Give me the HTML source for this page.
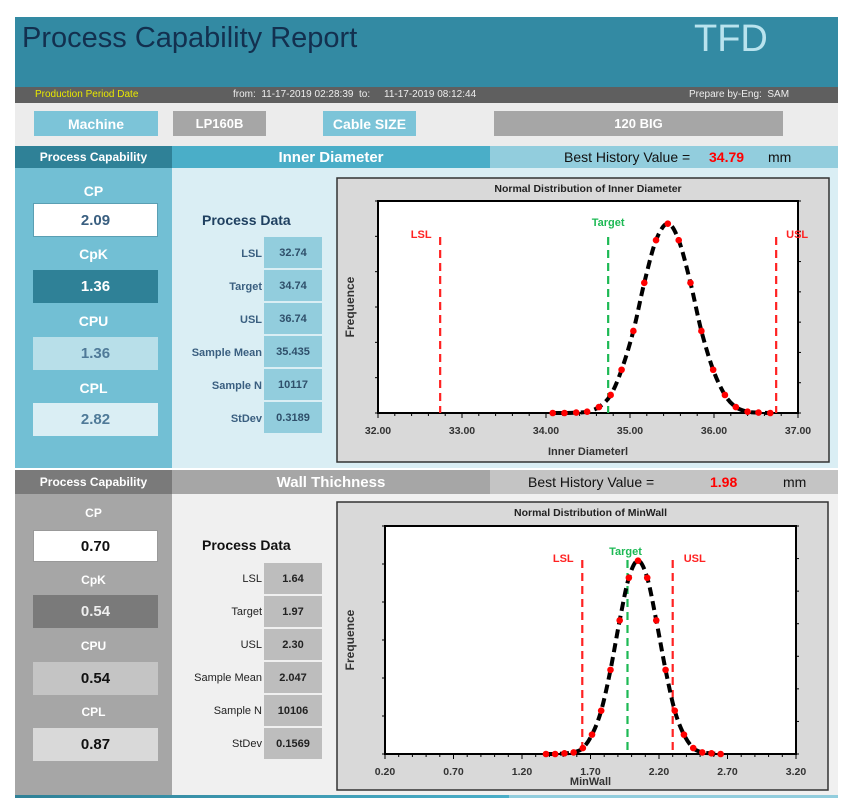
<!DOCTYPE html>
<html><head><meta charset="utf-8">
<style>
body{margin:0;width:850px;height:798px;background:#fff;position:relative;overflow:hidden;font-family:"Liberation Sans",sans-serif;}
div{position:absolute;box-sizing:border-box;}
.c{display:flex;align-items:center;justify-content:center;}
.b{font-weight:bold;}
.lbl{left:172px;width:90px;text-align:right;font-size:11px;font-weight:bold;color:#3a5f80;}
.val{left:264px;width:58px;font-size:11px;font-weight:bold;color:#2f4f6a;}
.lbl2{left:172px;width:90px;text-align:right;font-size:11px;color:#222;}
.val2{left:264px;width:58px;font-size:11px;font-weight:bold;color:#222;background:#bdbdbd;}
svg text{font-family:"Liberation Sans",sans-serif;}
</style></head><body>
<div style="left:15px;top:17px;width:823px;height:70px;background:#338aa3;"></div>
<div style="left:22px;top:22px;font-size:29px;color:#13304f;">Process Capability Report</div>
<div style="left:694px;top:18px;font-size:38px;color:#b9e3ee;">TFD</div>
<div style="left:15px;top:87px;width:823px;height:16px;background:#5f5f5f;font-size:10px;color:#eee;">
<span style="position:absolute;left:20px;top:2px;color:#e8e800;">Production Period Date</span>
<span style="position:absolute;left:218px;top:2px;">from:&nbsp; 11-17-2019 02:28:39 &nbsp;to: &nbsp;&nbsp;&nbsp; 11-17-2019 08:12:44</span>
<span style="position:absolute;left:674px;top:2px;">Prepare by-Eng:&nbsp; SAM</span></div>
<div style="left:15px;top:103px;width:823px;height:43px;background:#ececec;"></div>
<div class="c b" style="left:34px;top:111px;width:124px;height:25px;background:#7cc4d8;color:#fff;font-size:14px;">Machine</div>
<div class="c b" style="left:173px;top:111px;width:93px;height:25px;background:#a6a6a6;color:#fff;font-size:13px;">LP160B</div>
<div class="c b" style="left:323px;top:111px;width:93px;height:25px;background:#7cc4d8;color:#fff;font-size:14px;">Cable SIZE</div>
<div class="c b" style="left:494px;top:111px;width:289px;height:25px;background:#a6a6a6;color:#fff;font-size:13px;">120 BIG</div>

<!-- Section 1 -->
<div class="c b" style="left:15px;top:146px;width:157px;height:22px;background:#2f8197;color:#fff;font-size:12px;">Process Capability</div>
<div class="c b" style="left:172px;top:146px;width:318px;height:22px;background:#4aaec8;color:#fff;font-size:15px;">Inner Diameter</div>
<div style="left:490px;top:146px;width:348px;height:22px;background:#92cddd;font-size:14px;color:#111;"><span style="position:absolute;left:74px;top:3px;">Best History Value =</span><span style="position:absolute;left:219px;top:3px;color:#f00;font-weight:bold;">34.79</span><span style="position:absolute;left:278px;top:3px;">mm</span></div>
<div style="left:15px;top:168px;width:157px;height:300px;background:#72bfd4;"></div>
<div style="left:172px;top:168px;width:666px;height:300px;background:#daeef4;"></div>
<div class="c b" style="left:15px;top:182px;width:157px;height:18px;color:#fff;font-size:14px;">CP</div>
<div class="c b" style="left:33px;top:203px;width:125px;height:34px;background:#fff;border:1px solid #5a9fb3;color:#3a5f80;font-size:15px;">2.09</div>
<div class="c b" style="left:15px;top:245px;width:157px;height:18px;color:#fff;font-size:14px;">CpK</div>
<div class="c b" style="left:33px;top:270px;width:125px;height:33px;background:#2f8197;color:#fff;font-size:15px;">1.36</div>
<div class="c b" style="left:15px;top:312px;width:157px;height:18px;color:#fff;font-size:14px;">CPU</div>
<div class="c b" style="left:33px;top:337px;width:125px;height:33px;background:#b8dfe9;color:#4f7a98;font-size:15px;">1.36</div>
<div class="c b" style="left:15px;top:379px;width:157px;height:18px;color:#fff;font-size:14px;">CPL</div>
<div class="c b" style="left:33px;top:403px;width:125px;height:33px;background:#daeef4;color:#4f7a98;font-size:15px;">2.82</div>
<div class="b" style="left:202px;top:212px;font-size:14px;color:#1f4060;">Process Data</div>
<div class="lbl" style="top:248px">LSL</div><div class="val c" style="top:237px;height:31px;background:#92cddd">32.74</div>
<div class="lbl" style="top:281px">Target</div><div class="val c" style="top:270px;height:31px;background:#92cddd">34.74</div>
<div class="lbl" style="top:314px">USL</div><div class="val c" style="top:303px;height:31px;background:#92cddd">36.74</div>
<div class="lbl" style="top:347px">Sample Mean</div><div class="val c" style="top:336px;height:31px;background:#92cddd">35.435</div>
<div class="lbl" style="top:380px">Sample N</div><div class="val c" style="top:369px;height:31px;background:#92cddd">10117</div>
<div class="lbl" style="top:413px">StDev</div><div class="val c" style="top:402px;height:31px;background:#92cddd">0.3189</div>

<!-- Section 2 -->
<div class="c b" style="left:15px;top:470px;width:157px;height:24px;background:#7a7a7a;color:#fff;font-size:12px;">Process Capability</div>
<div class="c b" style="left:172px;top:470px;width:318px;height:24px;background:#a6a6a6;color:#fff;font-size:15px;">Wall Thichness</div>
<div style="left:490px;top:470px;width:348px;height:24px;background:#c4c4c4;font-size:14px;color:#111;"><span style="position:absolute;left:38px;top:4px;">Best History Value =</span><span style="position:absolute;left:220px;top:4px;color:#f00;font-weight:bold;">1.98</span><span style="position:absolute;left:293px;top:4px;">mm</span></div>
<div style="left:15px;top:494px;width:157px;height:301px;background:#a6a6a6;"></div>
<div style="left:172px;top:494px;width:666px;height:301px;background:#f0f0f0;"></div>
<div style="left:15px;top:795px;width:823px;height:3px;background:linear-gradient(90deg,#2f8197 0,#4aaec8 60%,#92cddd 60%);"></div>
<div class="c b" style="left:15px;top:505px;width:157px;height:16px;color:#fff;font-size:12px;">CP</div>
<div class="c b" style="left:33px;top:530px;width:125px;height:32px;background:#fff;border:1px solid #999;color:#111;font-size:15px;">0.70</div>
<div class="c b" style="left:15px;top:572px;width:157px;height:16px;color:#fff;font-size:12px;">CpK</div>
<div class="c b" style="left:33px;top:595px;width:125px;height:33px;background:#7a7a7a;color:#eee;font-size:15px;">0.54</div>
<div class="c b" style="left:15px;top:638px;width:157px;height:16px;color:#fff;font-size:12px;">CPU</div>
<div class="c b" style="left:33px;top:662px;width:125px;height:33px;background:#c4c4c4;color:#111;font-size:15px;">0.54</div>
<div class="c b" style="left:15px;top:704px;width:157px;height:16px;color:#fff;font-size:12px;">CPL</div>
<div class="c b" style="left:33px;top:728px;width:125px;height:33px;background:#d9d9d9;color:#111;font-size:15px;">0.87</div>
<div class="b" style="left:202px;top:537px;font-size:14px;color:#111;">Process Data</div>
<div class="lbl2" style="top:573px">LSL</div><div class="val2 c" style="top:563px;height:31px">1.64</div>
<div class="lbl2" style="top:606px">Target</div><div class="val2 c" style="top:596px;height:31px">1.97</div>
<div class="lbl2" style="top:639px">USL</div><div class="val2 c" style="top:629px;height:31px">2.30</div>
<div class="lbl2" style="top:672px">Sample Mean</div><div class="val2 c" style="top:662px;height:31px">2.047</div>
<div class="lbl2" style="top:705px">Sample N</div><div class="val2 c" style="top:695px;height:31px">10106</div>
<div class="lbl2" style="top:738px">StDev</div><div class="val2 c" style="top:728px;height:31px">0.1569</div>

<svg id="svg" width="850" height="798" style="position:absolute;left:0;top:0"></svg>
<script>
const id_x = [34.08,34.22,34.36,34.49,34.63,34.77,34.90,35.04,35.17,35.31,35.45,35.58,35.72,35.85,35.99,36.13,36.26,36.40,36.53,36.67];
const id_y = [0,0,0.002,0.006,0.028,0.085,0.204,0.387,0.614,0.815,0.893,0.815,0.614,0.387,0.204,0.085,0.028,0.006,0.002,0];
const id_ticks = ["32.00","33.00","34.00","35.00","36.00","37.00"];
const id_limits = [32.74,34.74,36.74];
const mw_x = [1.375,1.442,1.51,1.577,1.644,1.711,1.778,1.846,1.913,1.98,2.047,2.114,2.18,2.248,2.315,2.382,2.45,2.516,2.583,2.65];
const mw_y = [0,0,0.003,0.007,0.026,0.085,0.19,0.369,0.586,0.773,0.848,0.773,0.586,0.369,0.19,0.085,0.026,0.007,0.003,0];
const mw_ticks = ["0.20","0.70","1.20","1.70","2.20","2.70","3.20"];
const mw_limits = [1.64,1.97,2.30];

const NS="http://www.w3.org/2000/svg";
const svg=document.getElementById('svg');
function mk(tag,attrs,parent){const e=document.createElementNS(NS,tag);for(const k in attrs)e.setAttribute(k,attrs[k]);(parent||svg).appendChild(e);return e;}
function chart(o){
  const g=mk('g',{});
  
  
  const box=mk('rect',{x:o.bx,y:o.by,width:o.bw,height:o.bh,fill:'#d9d9d9',stroke:'#333','stroke-width':1.5},g);
  
  
  const t=mk('text',{x:(o.px0+o.px1)/2,y:o.by+14,'text-anchor':'middle','font-size':10.5,'font-weight':'bold',fill:'#222'},g);t.textContent=o.title;
  
  
  const pa=mk('rect',{x:o.px0,y:o.py0,width:o.px1-o.px0,height:o.py1-o.py0,fill:'#fff',stroke:'#000','stroke-width':2},g);
  
  
  const xmin=parseFloat(o.ticks[0]),xmax=parseFloat(o.ticks[o.ticks.length-1]);
  const X=v=>o.px0+(v-xmin)/(xmax-xmin)*(o.px1-o.px0);
  const Y=v=>o.py1-v*(o.py1-o.py0);
  // ticks
  const nT=o.ticks.length-1;
  for(let i=0;i<=nT*5;i++){const x=o.px0+i*(o.px1-o.px0)/(nT*5);mk('line',{x1:x,x2:x,y1:o.py1,y2:o.py1+(i%5?3:5),stroke:'#000'},g);}
  o.ticks.forEach(tk=>{const e=mk('text',{x:X(parseFloat(tk)),y:o.py1+21,'text-anchor':'middle','font-size':10.5,'font-weight':'bold',fill:'#333'},g);e.textContent=tk;
    
    });
  for(let i=0;i<=6;i++){const y=o.py0+i*(o.py1-o.py0)/6;mk('line',{x1:o.px0-3,x2:o.px0,y1:y,y2:y,stroke:'#000'},g);}
  for(let i=0;i<=7;i++){const y=o.py0+i*(o.py1-o.py0)/7;mk('line',{x1:o.px1,x2:o.px1+3,y1:y,y2:y,stroke:'#000'},g);}
  const xt=mk('text',{x:(o.px0+o.px1)/2,y:o.xty,'text-anchor':'middle','font-size':11,'font-weight':'bold',fill:'#333'},g);xt.textContent=o.xtitle;
  
  
  const yc=(o.py0+o.py1)/2;
  const yt=mk('text',{x:354,y:yc,'text-anchor':'middle','font-size':12,'font-weight':'bold',fill:'#333',transform:`rotate(-90 354 ${yc})`},g);yt.textContent='Frequence';
  
  
  // limit lines
  const cols=['#f22','#1db954','#f22'],names=['LSL','Target','USL'];
  o.limits.forEach((v,i)=>{
    const ln=mk('line',{x1:X(v),x2:X(v),y1:o.ly,y2:o.py1,stroke:cols[i],'stroke-width':2.2,'stroke-dasharray':'8 5'},g);
    
    
    const tx=mk('text',{x:X(v)+o.loff[i],y:o.lty[i],'text-anchor':'middle','font-size':11,'font-weight':'bold',fill:cols[i]},g);tx.textContent=names[i];
    
    
  });
  // curve
  const P=o.xs.map((x,i)=>[X(x),Y(o.ys[i])]);
  let d=`M${P[0][0]},${P[0][1]}`;
  for(let i=0;i<P.length-1;i++){const p0=P[Math.max(0,i-1)],p1=P[i],p2=P[i+1],p3=P[Math.min(P.length-1,i+2)];
    d+=` C${p1[0]+(p2[0]-p0[0])/6},${p1[1]+(p2[1]-p0[1])/6} ${p2[0]-(p3[0]-p1[0])/6},${p2[1]-(p3[1]-p1[1])/6} ${p2[0]},${p2[1]}`;}
  const c=mk('path',{d:d,fill:'none',stroke:'#000','stroke-width':4,'stroke-dasharray':'9 5'},g);
  
  
  P.forEach(p=>{const dt=mk('circle',{cx:p[0],cy:p[1],r:3.3,fill:'#f00'},g);
    
    });
}
chart({name:'inner-diameter-chart',bx:337,by:178,bw:492,bh:284,px0:378,px1:798,py0:201,py1:413,ticks:id_ticks,xs:id_x,ys:id_y,limits:id_limits,title:'Normal Distribution of Inner Diameter',xtitle:'Inner Diameterl',xty:455,ly:237,loff:[-19,0,21],lty:[238,226,238]});
chart({name:'minwall-chart',bx:337,by:502,bw:491,bh:288,px0:385,px1:796,py0:526,py1:754,ticks:mw_ticks,xs:mw_x,ys:mw_y,limits:mw_limits,title:'Normal Distribution of MinWall',xtitle:'MinWall',xty:785,ly:560,loff:[-19,-2,22],lty:[562,555,562]});
</script>
</body></html>
